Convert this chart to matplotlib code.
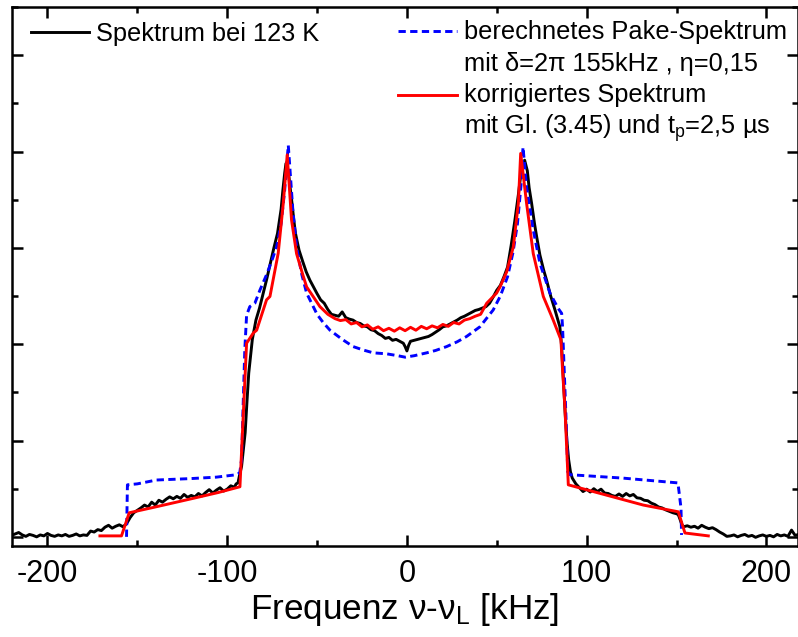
import matplotlib
matplotlib.use("Agg")
import matplotlib.pyplot as plt
from matplotlib.lines import Line2D
from matplotlib.ticker import MultipleLocator, NullFormatter

plt.rcParams['font.family'] = ['Liberation Sans', 'DejaVu Sans']
plt.rcParams['mathtext.fontset'] = 'custom'
plt.rcParams['mathtext.rm'] = 'Liberation Sans'
plt.rcParams['mathtext.it'] = 'Liberation Sans:italic'
plt.rcParams['axes.unicode_minus'] = False

# ---------------- data ----------------
black_x = [-220, -218, -216, -214, -212, -210, -208, -206, -204, -202, -200, -198, -196, -194, -192,
           -190, -188, -186, -184, -182, -180, -178,
           -176, -174, -172, -170, -168, -166, -164, -162, -160, -158, -156,
           -154, -152, -150, -148, -146, -144, -142, -140, -138, -136, -134, -132, -130, -128, -126,
           -124, -122, -120, -118, -116, -114, -112, -110, -108, -106, -104, -102, -100, -98, -96,
           -95, -94, -93, -92, -91, -90, -89, -88, -87, -86, -84, -82, -80, -78, -76, -74, -72, -70,
           -69, -68, -67.3, -66, -65, -64, -63, -62, -60, -58, -56, -54, -52, -50, -48, -46, -44,
           -42, -40, -38, -36, -34, -32, -30, -28, -26, -24, -22, -20, -18, -16, -14, -12, -10, -8,
           -6, -4, -2, -1, 0, 1, 2, 4, 6, 8, 10, 12, 14, 16, 18, 20, 22, 24, 26, 28, 30, 32, 34, 36,
           38, 40, 42, 44, 46, 48, 50, 52, 54, 56, 58, 60, 62, 63, 64, 65.5, 67, 68, 69.4, 71, 72.2,
           74, 76, 77.7, 80, 82.4, 84, 85.1, 86.1, 87, 88, 89, 90, 91, 92, 94, 96, 98, 100, 102, 104,
           106, 108, 110, 112, 114, 116, 118, 120, 122, 124, 126, 128, 130, 132, 134, 136, 138, 140,
           142, 144, 146, 148, 150, 151, 152, 153, 154, 156, 158, 160, 162, 164, 166, 168, 170, 172,
           174, 176, 178, 180, 182, 184, 186, 188, 190, 192, 194, 196, 198, 200, 202, 204, 206, 208,
           210, 212, 214, 216, 218]
black_y = [0.03, 0.06, 0.09, 0.04, 0.01, 0.05, 0.03, 0.00, 0.04, 0.02, 0.07, 0.03, 0.01, 0.04, 0.02,
           0.05, 0.01, 0.03, 0.06, 0.02, 0.04, 0.03,
           0.12, 0.10, 0.15, 0.13, 0.20, 0.24, 0.18, 0.22, 0.25, 0.21, 0.27,
           0.40, 0.50, 0.55, 0.60, 0.66, 0.62, 0.72, 0.66, 0.76, 0.72, 0.78, 0.83, 0.79, 0.84, 0.80,
           0.88, 0.82, 0.86, 0.83, 0.90, 0.85, 0.92, 0.98, 0.91, 0.97, 1.02, 0.95, 0.99, 1.06, 1.03,
           1.10, 1.12, 1.30, 1.46, 1.80, 2.16, 2.80, 3.40, 3.75, 4.10, 4.50, 4.75, 5.05, 5.35, 5.68,
           6.00, 6.30, 6.80,
           7.20, 7.55, 7.75, 7.60, 7.26, 6.95, 6.60, 6.30, 5.95, 5.72, 5.50, 5.33, 5.19, 5.05, 4.92,
           4.85, 4.72,
           4.62, 4.60, 4.58, 4.67, 4.55, 4.52, 4.50, 4.45, 4.43, 4.38, 4.36, 4.30, 4.28, 4.22, 4.18,
           4.12, 4.14, 4.08,
           4.10, 4.06, 4.02, 3.95, 3.86, 3.98, 4.06, 4.08, 4.10, 4.12, 4.14, 4.16, 4.20, 4.25, 4.30,
           4.36, 4.38, 4.42, 4.46, 4.50, 4.55, 4.58, 4.62, 4.66,
           4.70, 4.72, 4.75, 4.78, 4.85, 4.98, 5.12, 5.22, 5.40, 5.60, 6.05, 6.55, 7.10, 7.41, 7.65,
           7.82, 7.60, 7.25, 6.92, 6.50, 6.23,
           5.85, 5.55, 5.33, 5.00, 4.71, 4.50, 4.36, 3.95, 3.30, 2.60, 2.00, 1.60, 1.35, 1.22, 1.10,
           1.02, 0.94, 0.99, 0.93, 1.00,
           0.94, 0.99, 0.91, 0.90, 0.86, 0.84, 0.89, 0.84, 0.90, 0.85, 0.88, 0.81, 0.80, 0.76, 0.75,
           0.70, 0.67, 0.62,
           0.60, 0.56, 0.53, 0.50, 0.48, 0.46, 0.36, 0.25, 0.21, 0.23, 0.20, 0.22, 0.18, 0.24, 0.20,
           0.17, 0.19, 0.15,
           0.10, 0.06, 0.01, 0.02, 0.04, 0.00, 0.03, 0.05, 0.01, 0.03, -0.01, 0.02, 0.04, 0.01, 0.03,
           0.00, 0.05, 0.02,
           0.04, 0.01, 0.14, 0.03, 0.05]

pake_x = [-156, -155.5, -150, -139.3, -120, -105.9, -94.8, -93, -92, -91.3, -90.2, -89.2, -87.4,
          -84.6, -81.8, -78, -75, -72.5, -70, -68, -66.5, -66, -65, -63.5, -61.4, -58.5, -55.8,
          -50, -46.6, -42.8, -36, -29.9, -24.4, -18.7, -11.3, -5, -1, 4, 11, 16, 22.1, 28, 33.2,
          40.6, 48, 52, 56, 59, 61.5, 63.5, 64.6, 66.6, 70.3, 74, 79.6, 84.2, 86.1, 86.6, 88.5,
          89.5, 90.7, 120, 150.8, 152.5, 152.8]
pake_y = [0.0, 1.08, 1.10, 1.18, 1.21, 1.24, 1.29, 1.33, 1.60, 2.50, 3.88, 4.60, 4.78, 4.85, 5.12,
          5.45, 5.75, 6.02, 6.50, 7.20, 7.90, 8.13, 7.60, 6.80, 6.02, 5.45, 5.06, 4.62, 4.45, 4.29,
          4.10, 3.95, 3.88, 3.82, 3.80, 3.76, 3.73, 3.76, 3.82, 3.87, 3.95, 4.05, 4.16, 4.36, 4.71,
          5.00, 5.40, 5.90, 6.50, 7.30, 8.09, 7.26, 6.37, 5.68, 5.06, 4.74, 4.64, 4.36, 2.50, 1.35,
          1.29, 1.22, 1.12, 0.60, 0.04]

corr_x = [-170.8, -158.8, -154.5, -140, -120, -105, -93.9, -92.9, -89.2, -85.5, -83.6, -78.1,
          -76.2, -71.6, -68.8, -66.6, -64.2, -61.4, -58, -55.8, -52, -48.4, -44, -40, -37, -34,
          -31, -28, -25, -22, -19, -16, -13, -10, -7, -4, -1, 2, 5, 8, 11, 14, 17, 20, 23, 26,
          29, 32, 35, 38, 41, 44.4, 49.9,
          51.8, 55.5, 59.2, 62, 63.3, 66.6, 70.3, 75.9, 81.4, 85.7, 86.6, 87.9, 89.8, 131.5, 151,
          154.7, 167.7]
corr_y = [0.02, 0.02, 0.50, 0.62, 0.79, 0.92, 1.03, 1.04, 4.02, 4.23, 4.29, 4.92, 4.99, 5.89,
          6.92, 7.93, 6.58, 5.88, 5.45, 5.19, 4.98, 4.78, 4.62, 4.53, 4.49, 4.51, 4.42, 4.45, 4.36,
          4.40, 4.31, 4.36, 4.28, 4.33, 4.27, 4.34, 4.28, 4.35, 4.29, 4.37, 4.32, 4.38, 4.34, 4.41,
          4.37, 4.45, 4.42, 4.50, 4.53, 4.58, 4.62, 4.85, 5.06,
          5.19, 5.50, 6.02, 6.92, 7.96, 6.92, 5.88, 4.99, 4.50, 4.09, 3.46, 2.70, 1.08, 0.66, 0.52,
          0.08, 0.02]

xticks_major = [-200, -100, 0, 100, 200]

# ---------------- figure ----------------
W, H = 798, 637
fig = plt.figure(figsize=(W / 100, H / 100), dpi=100)
ax = fig.add_axes([11.5 / W, 1 - 546 / H, (W - 11.5) / W, (546 - 7) / H])

lw = 2.1
ax.plot(black_x, black_y, color='black', lw=lw, zorder=2)
ax.plot(pake_x, pake_y, color='#0000ff', lw=lw, dashes=(2.5, 1.5), zorder=3)
ax.plot(corr_x, corr_y, color='#ff0000', lw=lw, zorder=4)

ax.set_xlim(-220, 217.6)
ax.set_ylim(-0.19, 11.0)
ax.set_xticks(xticks_major)
ax.set_xticklabels([str(v) for v in xticks_major])
ax.xaxis.set_minor_locator(MultipleLocator(50))
ax.yaxis.set_major_locator(MultipleLocator(2))
ax.yaxis.set_minor_locator(MultipleLocator(1))
ax.yaxis.set_major_formatter(NullFormatter())

for s in ax.spines.values():
    s.set_linewidth(1.8)
ax.tick_params(which='both', direction='in', top=True, right=True, width=1.8)
ax.tick_params(which='major', length=8, labelsize=22, pad=9)
ax.tick_params(which='minor', length=4.5)
ax.set_xlabel(r"Frequenz ν-ν$_\mathregular{L}$ [kHz]", fontsize=25.3, labelpad=2)

# ---------------- legend (manual) ----------------
def fx(px):
    return px / W

def fy(py):
    return 1 - py / H

fs = 18.3
fig.add_artist(Line2D([fx(31), fx(89)], [fy(32.3), fy(32.3)], color='black', lw=lw))
fig.text(fx(96.5), fy(40.7), "Spektrum bei 123 K", fontsize=fs, va='baseline', ha='left')

fig.add_artist(Line2D([fx(398), fx(457)], [fy(31), fy(31)], color='#0000ff', lw=lw, dashes=(2.5, 1.5)))
fig.text(fx(464), fy(38.5), "berechnetes Pake-Spektrum", fontsize=fs, va='baseline', ha='left')
fig.text(fx(464), fy(71.5), "mit δ=2π 155kHz , η=0,15", fontsize=fs, va='baseline', ha='left')
fig.add_artist(Line2D([fx(398), fx(457)], [fy(94.5), fy(94.5)], color='#ff0000', lw=lw))
fig.text(fx(464), fy(101.7), "korrigiertes Spektrum", fontsize=fs, va='baseline', ha='left')
fig.text(fx(464), fy(133.3), r"mit Gl. (3.45) und t$_\mathregular{p}$=2,5 µs", fontsize=fs,
         va='baseline', ha='left')

fig.savefig("out.png", dpi=100)
